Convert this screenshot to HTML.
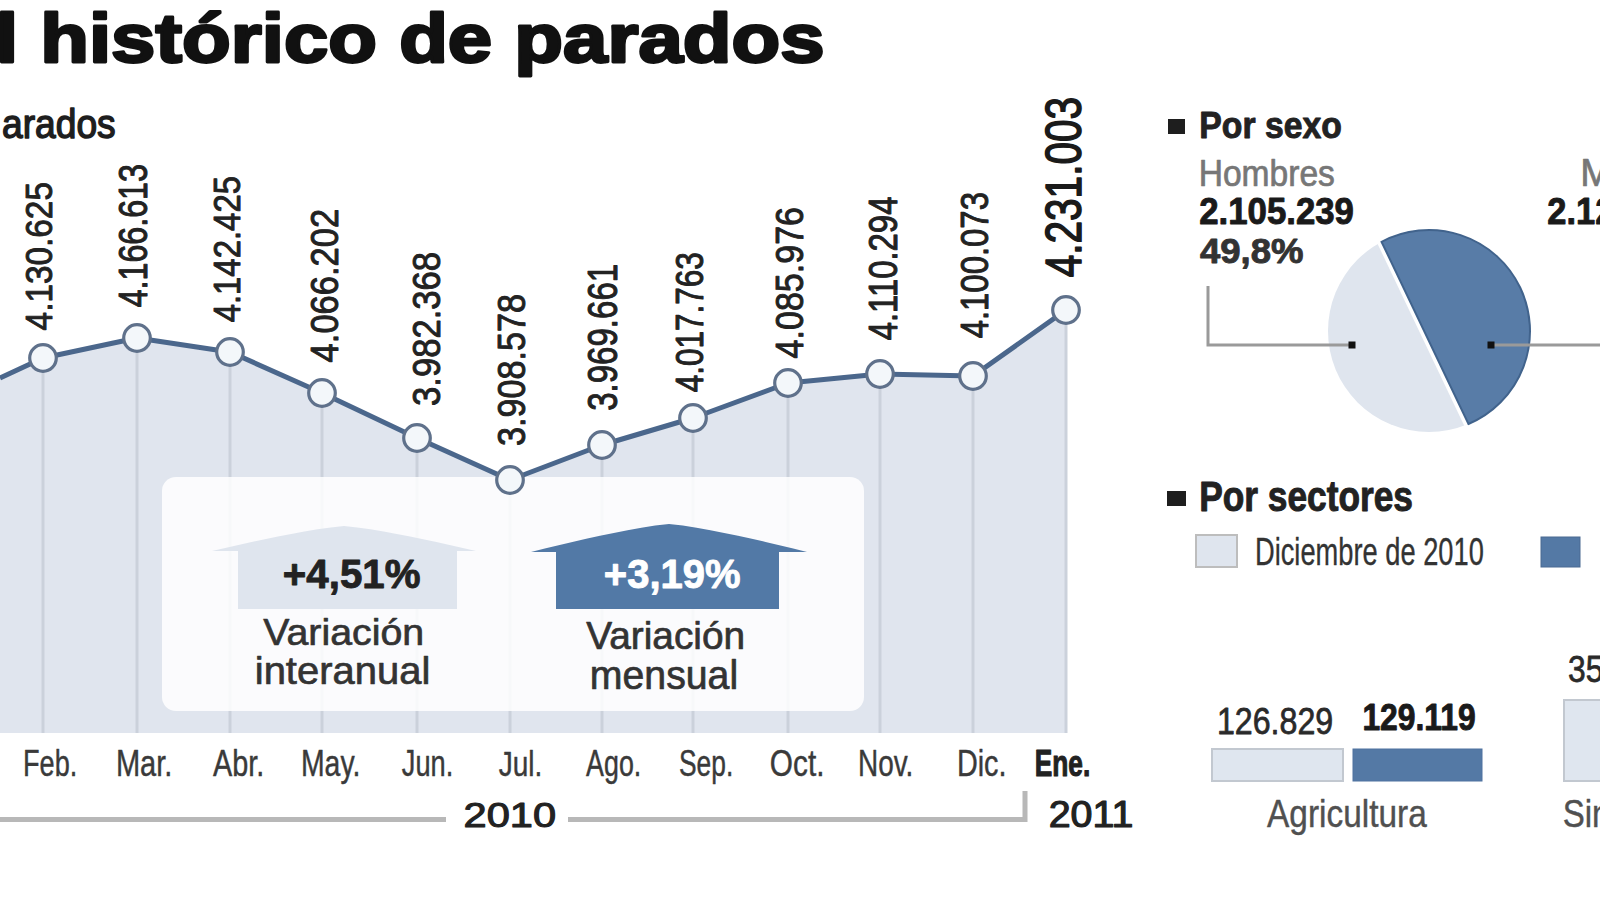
<!DOCTYPE html>
<html><head><meta charset="utf-8"><style>
html,body{margin:0;padding:0;background:#fff;overflow:hidden;width:1600px;height:899px}
svg{display:block;font-family:"Liberation Sans",sans-serif}
</style></head><body>
<svg width="1600" height="899" viewBox="0 0 1600 899">
<rect x="0" y="0" width="1600" height="899" fill="#fff"/>
<polygon points="0,378 43,358 137,338 230,352 322,393 417,438 510,480 602,445 693,418 788,383 880,374 973,376 1066,310 1066,733 0,733" fill="#e0e5ee"/>
<line x1="43" y1="358" x2="43" y2="733" stroke="#cbd1db" stroke-width="3"/>
<line x1="137" y1="338" x2="137" y2="733" stroke="#cbd1db" stroke-width="3"/>
<line x1="230" y1="352" x2="230" y2="733" stroke="#cbd1db" stroke-width="3"/>
<line x1="322" y1="393" x2="322" y2="733" stroke="#cbd1db" stroke-width="3"/>
<line x1="417" y1="438" x2="417" y2="733" stroke="#cbd1db" stroke-width="3"/>
<line x1="510" y1="480" x2="510" y2="733" stroke="#cbd1db" stroke-width="3"/>
<line x1="602" y1="445" x2="602" y2="733" stroke="#cbd1db" stroke-width="3"/>
<line x1="693" y1="418" x2="693" y2="733" stroke="#cbd1db" stroke-width="3"/>
<line x1="788" y1="383" x2="788" y2="733" stroke="#cbd1db" stroke-width="3"/>
<line x1="880" y1="374" x2="880" y2="733" stroke="#cbd1db" stroke-width="3"/>
<line x1="973" y1="376" x2="973" y2="733" stroke="#cbd1db" stroke-width="3"/>
<line x1="1066" y1="310" x2="1066" y2="733" stroke="#cbd1db" stroke-width="3"/>
<rect x="162" y="477" width="702" height="234" rx="14" fill="rgba(255,255,255,0.85)"/>
<polyline points="0,378 43,358 137,338 230,352 322,393 417,438 510,480 602,445 693,418 788,383 880,374 973,376 1066,310" fill="none" stroke="#4b678c" stroke-width="5" stroke-linejoin="round" vector-effect="non-scaling-stroke"/>
<circle cx="43" cy="358" r="13.3" fill="#f3f7fa" stroke="#5f718b" stroke-width="3.2"/>
<circle cx="137" cy="338" r="13.3" fill="#f3f7fa" stroke="#5f718b" stroke-width="3.2"/>
<circle cx="230" cy="352" r="13.3" fill="#f3f7fa" stroke="#5f718b" stroke-width="3.2"/>
<circle cx="322" cy="393" r="13.3" fill="#f3f7fa" stroke="#5f718b" stroke-width="3.2"/>
<circle cx="417" cy="438" r="13.3" fill="#f3f7fa" stroke="#5f718b" stroke-width="3.2"/>
<circle cx="510" cy="480" r="13.3" fill="#f3f7fa" stroke="#5f718b" stroke-width="3.2"/>
<circle cx="602" cy="445" r="13.3" fill="#f3f7fa" stroke="#5f718b" stroke-width="3.2"/>
<circle cx="693" cy="418" r="13.3" fill="#f3f7fa" stroke="#5f718b" stroke-width="3.2"/>
<circle cx="788" cy="383" r="13.3" fill="#f3f7fa" stroke="#5f718b" stroke-width="3.2"/>
<circle cx="880" cy="374" r="13.3" fill="#f3f7fa" stroke="#5f718b" stroke-width="3.2"/>
<circle cx="973" cy="376" r="13.3" fill="#f3f7fa" stroke="#5f718b" stroke-width="3.2"/>
<circle cx="1066" cy="310" r="13.3" fill="#f3f7fa" stroke="#5f718b" stroke-width="3.2"/>
<polygon points="212.0,551.0 225.2,547.9 238.4,544.9 251.6,542.0 264.8,539.2 278.0,536.5 291.2,534.0 304.4,531.6 317.6,529.3 330.8,527.4 344.0,526.0 357.2,527.4 370.4,529.3 383.6,531.6 396.8,534.0 410.0,536.5 423.2,539.2 436.4,542.0 449.6,544.9 462.8,547.9 476.0,551.0 457.0,551.0 457.0,609.0 238.0,609.0 238.0,551.0" fill="#dfe5ee"/>
<polygon points="531.0,552.0 544.8,548.5 558.6,545.2 572.4,541.9 586.2,538.8 600.0,535.8 613.8,532.9 627.6,530.2 641.4,527.7 655.2,525.6 669.0,524.0 682.8,525.6 696.6,527.7 710.4,530.2 724.2,532.9 738.0,535.8 751.8,538.8 765.6,541.9 779.4,545.2 793.2,548.5 807.0,552.0 779.0,552.0 779.0,609.0 556.0,609.0 556.0,552.0" fill="#5279a6"/>
<line x1="0" y1="819.5" x2="446" y2="819.5" stroke="#b8b8b8" stroke-width="5"/>
<polyline points="568,819.5 1025,819.5 1025,791" fill="none" stroke="#b8b8b8" stroke-width="5"/>
<circle cx="1429" cy="331" r="101" fill="#dfe5ee"/>
<line x1="1381.58" y1="241.82" x2="1468.46" y2="423.97" stroke="#ffffff" stroke-width="9"/>
<path d="M1381.58,241.82 A101,101 0 1 1 1468.46,423.97 Z" fill="#587ca7" stroke="#41638c" stroke-width="2"/>
<polyline points="1208,286 1208,345 1352,345" fill="none" stroke="#9a9a9a" stroke-width="3"/>
<line x1="1491" y1="345" x2="1600" y2="345" stroke="#9a9a9a" stroke-width="3"/>
<rect x="1348.5" y="341.5" width="7" height="7" fill="#111"/>
<rect x="1487.5" y="341.5" width="7" height="7" fill="#111"/>
<rect x="1168" y="119" width="17" height="15" fill="#1e1e1e"/>
<rect x="1167" y="491" width="19" height="15" fill="#1e1e1e"/>
<rect x="1196" y="535" width="41" height="32" fill="#dfe5ee" stroke="#bdbdbd" stroke-width="2"/>
<rect x="1541" y="537" width="39" height="30" fill="#5479a5" stroke="#4a6a92" stroke-width="1"/>
<rect x="1212" y="749" width="131" height="32" fill="#dfe6ef" stroke="#c2c8d0" stroke-width="2"/>
<rect x="1353" y="749" width="129" height="32" fill="#5479a5" stroke="#4f72a0" stroke-width="1"/>
<rect x="1564" y="700" width="56" height="81" fill="#dfe6ef" stroke="#c2c8d0" stroke-width="2"/>
<text x="-4.83" y="0" transform="translate(1.50,61.50) scale(1.1566,1)" font-size="68.97" font-weight="bold" fill="#111" stroke="#111" stroke-width="3" stroke-linejoin="round" vector-effect="non-scaling-stroke">l histórico de parados</text>
<text x="-1.84" y="0" transform="translate(3.70,138.30) scale(0.9106,1)" font-size="40.83" font-weight="normal" fill="#1e1e1e" stroke="#1e1e1e" stroke-width="1.4" stroke-linejoin="round" vector-effect="non-scaling-stroke">arados</text>
<text x="-2.97" y="0" transform="translate(25.20,775.80) scale(0.7305,1)" font-size="37.10" font-weight="normal" fill="#3a3a3a" stroke="#3a3a3a" stroke-width="0.4" stroke-linejoin="round" vector-effect="non-scaling-stroke">Feb.</text>
<text x="-2.97" y="0" transform="translate(118.20,775.80) scale(0.7835,1)" font-size="37.10" font-weight="normal" fill="#3a3a3a" stroke="#3a3a3a" stroke-width="0.4" stroke-linejoin="round" vector-effect="non-scaling-stroke">Mar.</text>
<text x="-0.19" y="0" transform="translate(213.20,775.80) scale(0.7718,1)" font-size="37.37" font-weight="normal" fill="#3a3a3a" stroke="#3a3a3a" stroke-width="0.4" stroke-linejoin="round" vector-effect="non-scaling-stroke">Abr.</text>
<text x="-2.97" y="0" transform="translate(303.20,775.80) scale(0.7665,1)" font-size="37.10" font-weight="normal" fill="#3a3a3a" stroke="#3a3a3a" stroke-width="0.4" stroke-linejoin="round" vector-effect="non-scaling-stroke">May.</text>
<text x="-0.56" y="0" transform="translate(402.20,775.80) scale(0.7338,1)" font-size="37.10" font-weight="normal" fill="#3a3a3a" stroke="#3a3a3a" stroke-width="0.4" stroke-linejoin="round" vector-effect="non-scaling-stroke">Jun.</text>
<text x="-0.53" y="0" transform="translate(499.20,775.80) scale(0.7930,1)" font-size="35.31" font-weight="normal" fill="#3a3a3a" stroke="#3a3a3a" stroke-width="0.4" stroke-linejoin="round" vector-effect="non-scaling-stroke">Jul.</text>
<text x="-0.19" y="0" transform="translate(586.20,775.80) scale(0.7181,1)" font-size="37.37" font-weight="normal" fill="#3a3a3a" stroke="#3a3a3a" stroke-width="0.4" stroke-linejoin="round" vector-effect="non-scaling-stroke">Ago.</text>
<text x="-1.65" y="0" transform="translate(680.20,775.80) scale(0.7206,1)" font-size="36.57" font-weight="normal" fill="#3a3a3a" stroke="#3a3a3a" stroke-width="0.4" stroke-linejoin="round" vector-effect="non-scaling-stroke">Sep.</text>
<text x="-1.65" y="0" transform="translate(771.20,775.80) scale(0.8139,1)" font-size="36.57" font-weight="normal" fill="#3a3a3a" stroke="#3a3a3a" stroke-width="0.4" stroke-linejoin="round" vector-effect="non-scaling-stroke">Oct.</text>
<text x="-2.97" y="0" transform="translate(860.20,775.80) scale(0.7535,1)" font-size="37.10" font-weight="normal" fill="#3a3a3a" stroke="#3a3a3a" stroke-width="0.4" stroke-linejoin="round" vector-effect="non-scaling-stroke">Nov.</text>
<text x="-2.97" y="0" transform="translate(959.20,775.80) scale(0.7756,1)" font-size="37.10" font-weight="normal" fill="#3a3a3a" stroke="#3a3a3a" stroke-width="0.4" stroke-linejoin="round" vector-effect="non-scaling-stroke">Dic.</text>
<text x="-2.36" y="0" transform="translate(1036.45,775.55) scale(0.7233,1)" font-size="36.38" font-weight="bold" fill="#222" stroke="#222" stroke-width="0.9" stroke-linejoin="round" vector-effect="non-scaling-stroke">Ene.</text>
<text x="-1.77" y="0" transform="translate(465.60,827.40) scale(1.1740,1)" font-size="35.43" font-weight="normal" fill="#222" stroke="#222" stroke-width="1.2" stroke-linejoin="round" vector-effect="non-scaling-stroke">2010</text>
<text x="-1.84" y="0" transform="translate(1050.60,827.40) scale(1.0694,1)" font-size="36.86" font-weight="normal" fill="#222" stroke="#222" stroke-width="1.2" stroke-linejoin="round" vector-effect="non-scaling-stroke">2011</text>
<text x="-1.63" y="0" transform="translate(284.45,587.55) scale(0.9888,1)" font-size="40.72" font-weight="bold" fill="#222" stroke="#222" stroke-width="0.9" stroke-linejoin="round" vector-effect="non-scaling-stroke">+4,51%</text>
<text x="-0.18" y="0" transform="translate(263.35,644.65) scale(1.0726,1)" font-size="36.67" font-weight="normal" fill="#333" stroke="#333" stroke-width="0.7" stroke-linejoin="round" vector-effect="non-scaling-stroke">Variación</text>
<text x="-2.54" y="0" transform="translate(257.35,683.65) scale(1.0241,1)" font-size="39.03" font-weight="normal" fill="#333" stroke="#333" stroke-width="0.7" stroke-linejoin="round" vector-effect="non-scaling-stroke">interanual</text>
<text x="-1.61" y="0" transform="translate(605.45,587.55) scale(0.9957,1)" font-size="40.14" font-weight="bold" fill="#ffffff" stroke="#ffffff" stroke-width="0.9" stroke-linejoin="round" vector-effect="non-scaling-stroke">+3,19%</text>
<text x="-0.19" y="0" transform="translate(586.35,648.65) scale(1.0188,1)" font-size="38.12" font-weight="normal" fill="#333" stroke="#333" stroke-width="0.7" stroke-linejoin="round" vector-effect="non-scaling-stroke">Variación</text>
<text x="-2.63" y="0" transform="translate(592.35,688.65) scale(0.9715,1)" font-size="40.41" font-weight="normal" fill="#333" stroke="#333" stroke-width="0.7" stroke-linejoin="round" vector-effect="non-scaling-stroke">mensual</text>
<text x="-2.46" y="0" transform="translate(1201.45,137.55) scale(0.8926,1)" font-size="37.83" font-weight="bold" fill="#222" stroke="#222" stroke-width="0.9" stroke-linejoin="round" vector-effect="non-scaling-stroke">Por sexo</text>
<text x="-2.90" y="0" transform="translate(1201.35,185.65) scale(0.9256,1)" font-size="36.28" font-weight="normal" fill="#777" stroke="#777" stroke-width="0.7" stroke-linejoin="round" vector-effect="non-scaling-stroke">Hombres</text>
<text x="-1.31" y="0" transform="translate(1200.45,223.55) scale(0.9324,1)" font-size="37.29" font-weight="bold" fill="#1a1a1a" stroke="#1a1a1a" stroke-width="0.9" stroke-linejoin="round" vector-effect="non-scaling-stroke">2.105.239</text>
<text x="-0.52" y="0" transform="translate(1200.45,262.55) scale(1.0459,1)" font-size="34.93" font-weight="bold" fill="#333" stroke="#333" stroke-width="0.9" stroke-linejoin="round" vector-effect="non-scaling-stroke">49,8%</text>
<text x="-3.05" y="0" transform="translate(1583.35,185.65) scale(1.0000,1)" font-size="38.12" font-weight="normal" fill="#777" stroke="#777" stroke-width="0.7" stroke-linejoin="round" vector-effect="non-scaling-stroke">Mujeres</text>
<text x="-1.31" y="0" transform="translate(1548.45,223.55) scale(0.9250,1)" font-size="37.29" font-weight="bold" fill="#1a1a1a" stroke="#1a1a1a" stroke-width="0.9" stroke-linejoin="round" vector-effect="non-scaling-stroke">2.125.764</text>
<text x="-2.74" y="0" transform="translate(1201.45,510.55) scale(0.8373,1)" font-size="42.17" font-weight="bold" fill="#222" stroke="#222" stroke-width="0.9" stroke-linejoin="round" vector-effect="non-scaling-stroke">Por sectores</text>
<text x="-3.06" y="0" transform="translate(1257.15,564.85) scale(0.7139,1)" font-size="38.21" font-weight="normal" fill="#333" stroke="#333" stroke-width="0.3" stroke-linejoin="round" vector-effect="non-scaling-stroke">Diciembre de 2010</text>
<text x="-2.82" y="0" transform="translate(1219.35,733.65) scale(0.8564,1)" font-size="37.57" font-weight="normal" fill="#2a2a2a" stroke="#2a2a2a" stroke-width="0.7" stroke-linejoin="round" vector-effect="non-scaling-stroke">126.829</text>
<text x="-2.42" y="0" transform="translate(1364.45,729.55) scale(0.8534,1)" font-size="37.29" font-weight="bold" fill="#1a1a1a" stroke="#1a1a1a" stroke-width="0.9" stroke-linejoin="round" vector-effect="non-scaling-stroke">129.119</text>
<text x="-0.19" y="0" transform="translate(1267.20,826.80) scale(0.8780,1)" font-size="38.07" font-weight="normal" fill="#505050" stroke="#505050" stroke-width="0.4" stroke-linejoin="round" vector-effect="non-scaling-stroke">Agricultura</text>
<text x="-1.50" y="0" transform="translate(1569.35,681.65) scale(0.8455,1)" font-size="37.57" font-weight="normal" fill="#2a2a2a" stroke="#2a2a2a" stroke-width="0.7" stroke-linejoin="round" vector-effect="non-scaling-stroke">358.420</text>
<text x="-1.77" y="0" transform="translate(1564.20,826.80) scale(0.8390,1)" font-size="39.43" font-weight="normal" fill="#505050" stroke="#505050" stroke-width="0.4" stroke-linejoin="round" vector-effect="non-scaling-stroke">Sin empleo</text>
<text x="-0.93" y="0" transform="translate(51.55,329.55) rotate(-90) scale(0.8946,1)" font-size="37.29" font-weight="normal" fill="#222" stroke="#222" stroke-width="0.9" stroke-linejoin="round" vector-effect="non-scaling-stroke">4.130.625</text>
<text x="-1.04" y="0" transform="translate(146.55,306.55) rotate(-90) scale(0.7749,1)" font-size="41.57" font-weight="normal" fill="#222" stroke="#222" stroke-width="0.9" stroke-linejoin="round" vector-effect="non-scaling-stroke">4.166.613</text>
<text x="-0.93" y="0" transform="translate(239.55,321.55) rotate(-90) scale(0.8824,1)" font-size="37.29" font-weight="normal" fill="#222" stroke="#222" stroke-width="0.9" stroke-linejoin="round" vector-effect="non-scaling-stroke">4.142.425</text>
<text x="-0.97" y="0" transform="translate(337.55,361.55) rotate(-90) scale(0.8921,1)" font-size="38.71" font-weight="normal" fill="#222" stroke="#222" stroke-width="0.9" stroke-linejoin="round" vector-effect="non-scaling-stroke">4.066.202</text>
<text x="-1.55" y="0" transform="translate(439.55,404.55) rotate(-90) scale(0.8941,1)" font-size="38.71" font-weight="normal" fill="#222" stroke="#222" stroke-width="0.9" stroke-linejoin="round" vector-effect="non-scaling-stroke">3.982.368</text>
<text x="-1.55" y="0" transform="translate(524.55,444.55) rotate(-90) scale(0.8823,1)" font-size="38.71" font-weight="normal" fill="#222" stroke="#222" stroke-width="0.9" stroke-linejoin="round" vector-effect="non-scaling-stroke">3.908.578</text>
<text x="-1.66" y="0" transform="translate(616.55,409.55) rotate(-90) scale(0.7950,1)" font-size="41.57" font-weight="normal" fill="#222" stroke="#222" stroke-width="0.9" stroke-linejoin="round" vector-effect="non-scaling-stroke">3.969.661</text>
<text x="-0.97" y="0" transform="translate(702.55,391.55) rotate(-90) scale(0.8144,1)" font-size="38.71" font-weight="normal" fill="#222" stroke="#222" stroke-width="0.9" stroke-linejoin="round" vector-effect="non-scaling-stroke">4.017.763</text>
<text x="-0.97" y="0" transform="translate(802.55,357.55) rotate(-90) scale(0.8793,1)" font-size="38.71" font-weight="normal" fill="#222" stroke="#222" stroke-width="0.9" stroke-linejoin="round" vector-effect="non-scaling-stroke">4.085.976</text>
<text x="-1.00" y="0" transform="translate(896.55,339.55) rotate(-90) scale(0.8194,1)" font-size="40.14" font-weight="normal" fill="#222" stroke="#222" stroke-width="0.9" stroke-linejoin="round" vector-effect="non-scaling-stroke">4.110.294</text>
<text x="-0.97" y="0" transform="translate(987.55,337.55) rotate(-90) scale(0.8498,1)" font-size="38.71" font-weight="normal" fill="#222" stroke="#222" stroke-width="0.9" stroke-linejoin="round" vector-effect="non-scaling-stroke">4.100.073</text>
<text x="-1.27" y="0" transform="translate(1081.30,276.30) rotate(-90) scale(0.7973,1)" font-size="50.86" font-weight="normal" fill="#1a1a1a" stroke="#1a1a1a" stroke-width="1.4" stroke-linejoin="round" vector-effect="non-scaling-stroke">4.231.003</text>
</svg>
</body></html>
